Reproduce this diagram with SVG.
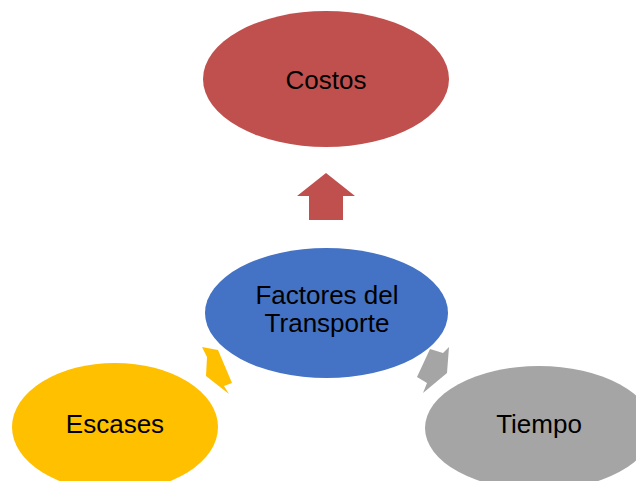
<svg xmlns="http://www.w3.org/2000/svg" width="636" height="481" viewBox="0 0 636 481">
<style>
.lbl{font-family:"Liberation Sans",Arial,sans-serif;font-size:26px;fill:#000;text-anchor:middle}
</style>
<rect width="636" height="481" fill="#fff"/>
<g id="connectors">
<polygon points="326,173 355,196 343,196 343,220 309,220 309,196 297,196" fill="#C0504D"/>
<polygon points="202,347 218,350 232,383 224,386 229,394 206,376 207,357" fill="#FFC000"/>
<polygon points="449,347 447,373 423,393 427,383 417,377 430,349 443,353" fill="#A5A5A5"/>
</g>
<g id="costos">
<ellipse cx="326" cy="79" rx="123" ry="68" fill="#C0504D"/>
<text class="lbl" x="326" y="89">Costos</text>
</g>
<g id="factores">
<ellipse cx="326.5" cy="313" rx="121.5" ry="65" fill="#4472C4"/>
<text class="lbl" x="327" y="304">Factores del</text>
<text class="lbl" x="327" y="332">Transporte</text>
</g>
<g id="escases">
<ellipse cx="115" cy="427" rx="103" ry="64" fill="#FFC000"/>
<text class="lbl" x="115" y="433">Escases</text>
</g>
<g id="tiempo">
<ellipse cx="539" cy="428" rx="114" ry="62" fill="#A5A5A5"/>
<text class="lbl" x="539" y="433">Tiempo</text>
</g>
</svg>
